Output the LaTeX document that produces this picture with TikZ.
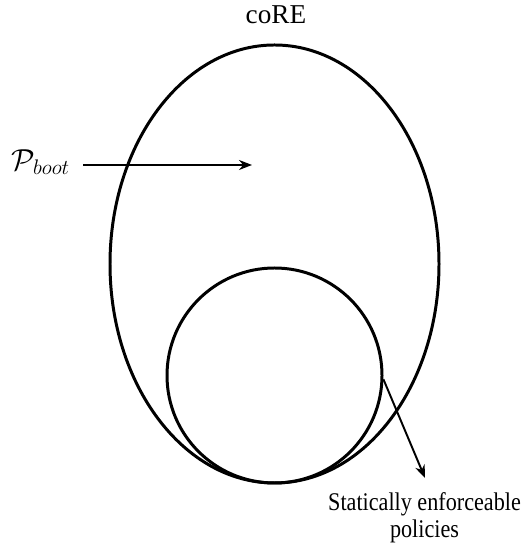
\documentclass[tikz,border=0pt]{standalone}
\usepackage{fontspec}
\setmainfont{Liberation Serif}
\usetikzlibrary{arrows.meta, positioning, shapes.geometric}
\tikzset{
  every picture/.style={line width=1.7pt},
  set/.style={draw, inner sep=0pt},
  arrow/.style={-{Stealth[length=2.6mm, width=2mm]}, line width=1.1pt},
  title/.style={font=\fontsize{15.5}{18}\selectfont},
  note/.style={font=\fontsize{14.5}{15.3}\selectfont, inner sep=0pt},
}

\begin{document}
\begin{tikzpicture}
  \useasboundingbox (0,0) rectangle (10.44,10.92);
  % the two sets
  \node[set, ellipse, minimum width=6.58cm, minimum height=8.76cm] (core) at (5.49,5.64) {};
  \node[set, circle, minimum size=4.3cm] (stat) at (5.49,3.41) {};
  \node[title] (coretitle) at (5.52,10.62) {coRE};
  % P_boot
  \node[font=\fontsize{17}{20}\selectfont, inner sep=1pt] (pboot) at (0.82,7.68) {$\mathcal{P}_{boot}$};
  \coordinate (pin) at (5.04,7.62);
  \draw[arrow] (pboot.east |- pin) ++(0.2,0) coordinate (pstart) -- (pin);
  % statically enforceable
  \node[note] (statnote) at (8.49,0.556)
    {\scalebox{0.87}[1]{\begin{tabular}{@{}c@{}}Statically enforceable\\policies\end{tabular}}};
  \coordinate (sout) at (8.5,1.36);
  \draw[arrow] (stat.-2) -- (sout);
\end{tikzpicture}
\end{document}
